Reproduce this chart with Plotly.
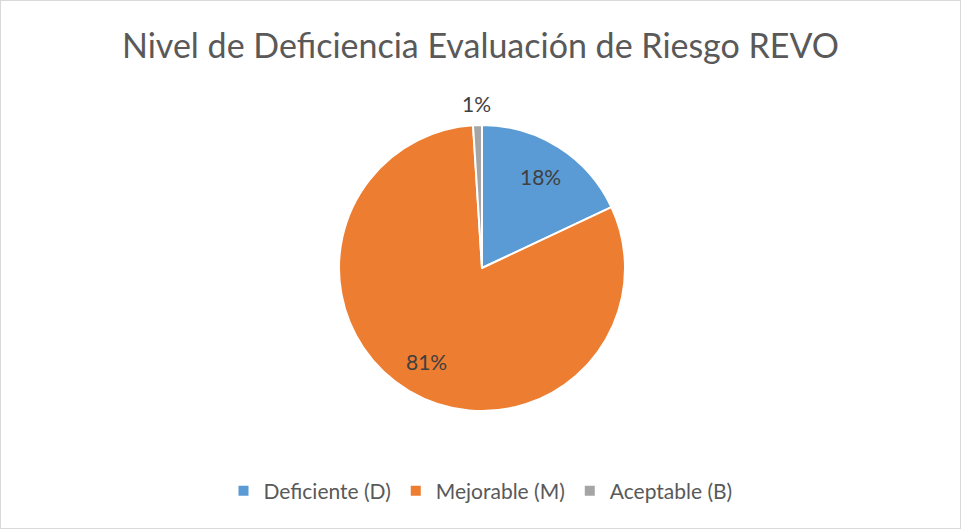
import math
import plotly.graph_objects as go

categories = ["Deficiente (D)", "Mejorable (M)", "Aceptable (B)"]
values = [18, 81, 1]
colors = ["#5B9BD5", "#ED7D31", "#A5A5A5"]
label_inside = [True, True, False]

W, H = 961, 529
cx, cy, R = 482, 268, 143
FONT = "Lato, Open Sans, sans-serif"

fig = go.Figure(go.Pie(
    labels=categories,
    values=values,
    sort=False,
    direction="clockwise",
    rotation=0,
    marker=dict(colors=colors, line=dict(color="white", width=2)),
    textinfo="none",
    domain=dict(x=[(cx - R) / W, (cx + R) / W], y=[(H - cy - R) / H, (H - cy + R) / H]),
    hoverinfo="label+percent",
))

# data labels placed at slice mid-angles, derived from the values
total = sum(values)
annotations = []
cum = 0
for v, inside in zip(values, label_inside):
    mid = (cum + v / 2) / total
    cum += v
    theta = 2 * math.pi * mid
    r = 0.76 * R if inside else R + 22
    x = cx + r * math.sin(theta)
    y = cy - r * math.cos(theta)
    annotations.append(dict(
        x=x / W, y=1 - y / H, xref="paper", yref="paper",
        text=f"{round(100 * v / total)}%", showarrow=False,
        xanchor="center", yanchor="middle",
        font=dict(family=FONT, size=21, color="#404040"),
    ))

fig.update_layout(
    width=W, height=H,
    paper_bgcolor="white",
    margin=dict(l=0, r=0, t=0, b=0),
    title=dict(text="Nivel de Deficiencia Evaluación de Riesgo REVO",
               x=0.5, xanchor="center", y=1 - 46 / H, yanchor="middle",
               font=dict(family=FONT, size=34, color="#595959")),
    legend=dict(orientation="h", x=0.5, xanchor="center", y=1 - 491 / H, yanchor="middle",
                font=dict(family=FONT, size=21, color="#595959"),
                itemwidth=30, traceorder="normal"),
    annotations=annotations,
    shapes=[dict(type="rect", xref="paper", yref="paper", x0=0, y0=0, x1=1, y1=1,
                 line=dict(color="#D9D9D9", width=2), fillcolor="rgba(0,0,0,0)")],
)

fig.write_html("out.html", config={"displayModeBar": False},
               post_script="document.body.style.margin='0';document.body.style.overflow='hidden';")
